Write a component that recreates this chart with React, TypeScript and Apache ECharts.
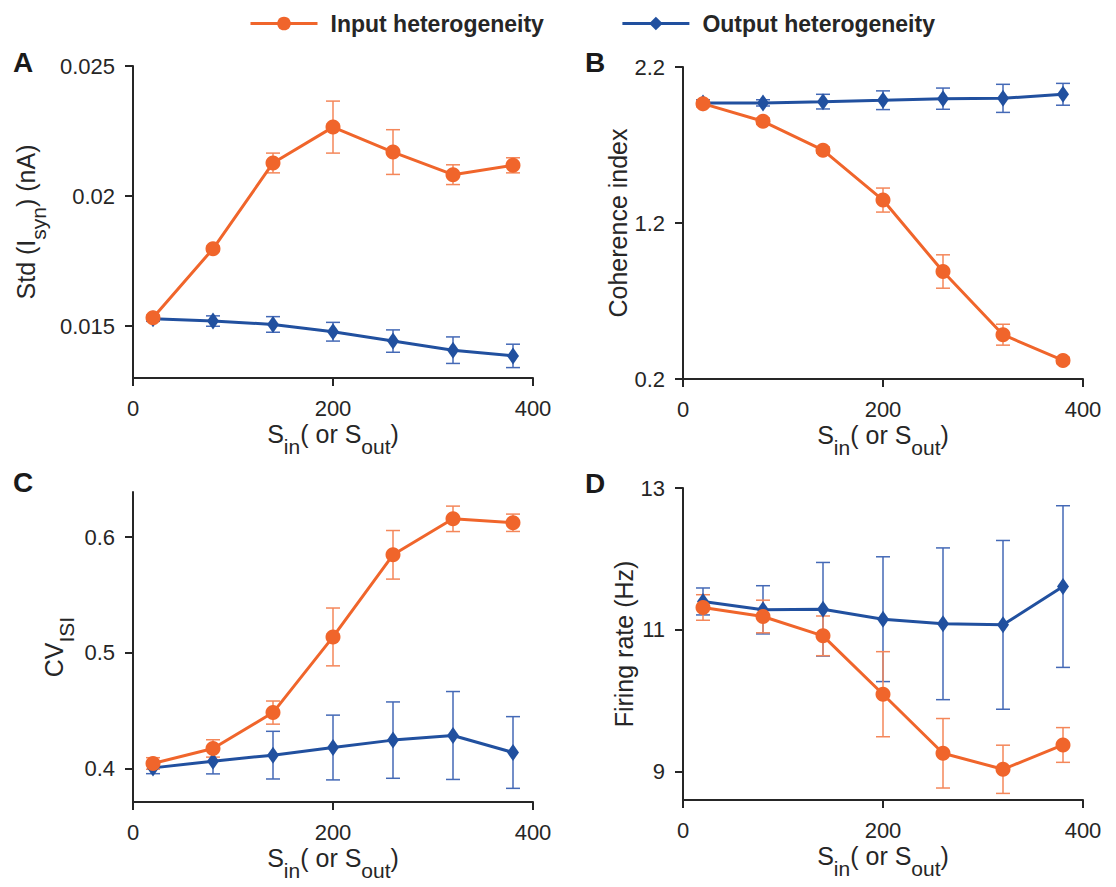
import React, { useEffect, useRef } from 'react';
import * as echarts from 'echarts';

// ---------- data ----------
const xValues = [20, 80, 140, 200, 260, 320, 380];
const xTicks = [0, 200, 400];

// Panel A: Std(I_syn) (nA)
const inputA = [0.01532, 0.01797, 0.02127, 0.02265, 0.02169, 0.02082, 0.02118];
const inputAErr = [0.0001, 0.0001, 0.00038, 0.001, 0.00086, 0.00038, 0.00029];
const outputA = [0.01528, 0.01519, 0.01506, 0.01478, 0.01442, 0.01407, 0.01385];
const outputAErr = [0.0001, 0.0002, 0.0003, 0.00036, 0.00043, 0.00051, 0.00045];
const yTicksA = [0.015, 0.02, 0.025];
const yTickLabelsA = ['0.015', '0.02', '0.025'];

// Panel B: Coherence index
const inputB = [1.965, 1.852, 1.667, 1.347, 0.889, 0.484, 0.319];
const inputBErr = [0.02, 0.02, 0.02, 0.077, 0.107, 0.067, 0.02];
const outputB = [1.97, 1.97, 1.978, 1.987, 1.997, 1.999, 2.025];
const outputBErr = [0.02, 0.02, 0.047, 0.06, 0.068, 0.09, 0.07];
const yTicksB = [0.2, 1.2, 2.2];
const yTickLabelsB = ['0.2', '1.2', '2.2'];

// Panel C: CV_ISI
const inputC = [0.4043, 0.4173, 0.4483, 0.5137, 0.5847, 0.6158, 0.6124];
const inputCErr = [0.005, 0.0075, 0.01, 0.025, 0.021, 0.011, 0.0075];
const outputC = [0.4005, 0.4063, 0.4115, 0.4181, 0.4245, 0.4285, 0.4138];
const outputCErr = [0.005, 0.011, 0.0206, 0.028, 0.033, 0.038, 0.031];
const yTicksC = [0.4, 0.5, 0.6];
const yTickLabelsC = ['0.4', '0.5', '0.6'];

// Panel D: Firing rate (Hz)
const inputD = [11.315, 11.188, 10.915, 10.092, 9.259, 9.033, 9.376];
const inputDErr = [0.18, 0.23, 0.28, 0.6, 0.49, 0.34, 0.245];
const outputD = [11.4, 11.282, 11.29, 11.15, 11.085, 11.07, 11.61];
const outputDErr = [0.19, 0.34, 0.66, 0.88, 1.07, 1.19, 1.14];
const yTicksD = [9, 11, 13];
const yTickLabelsD = ['9', '11', '13'];

const seriesNames = ['Input heterogeneity', 'Output heterogeneity'];
const panelLetters = ['A', 'B', 'C', 'D'];

// ---------- styles ----------
const ORANGE = '#F0652B';
const ORANGE_ERR = '#F4875A';
const BLUE = '#21509F';
const BLUE_ERR = '#4469B6';
const INK = '#262626';
const FONT = 'Liberation Sans';

const grids = [
  { left: 133, top: 66, width: 400, height: 312 },
  { left: 683, top: 67, width: 400, height: 312 },
  { left: 133, top: 492, width: 400, height: 310 },
  { left: 683, top: 488, width: 400, height: 312 },
];

const yCfg = [
  { min: 0.013, max: 0.025, ticks: yTicksA, labels: yTickLabelsA, name: '{m|Std (I}{s|syn}{m|) (nA)}', gap: 84 },
  { min: 0.2, max: 2.2, ticks: yTicksB, labels: yTickLabelsB, name: '{m|Coherence index}', gap: 51 },
  { min: 0.371, max: 0.639, ticks: yTicksC, labels: yTickLabelsC, name: '{m|CV}{s|ISI}', gap: 56 },
  { min: 8.6, max: 13, ticks: yTicksD, labels: yTickLabelsD, name: '{m|Firing rate (Hz)}', gap: 43 },
];

const panels = [
  { input: inputA, inputErr: inputAErr, output: outputA, outputErr: outputAErr },
  { input: inputB, inputErr: inputBErr, output: outputB, outputErr: outputBErr },
  { input: inputC, inputErr: inputCErr, output: outputC, outputErr: outputCErr },
  { input: inputD, inputErr: inputDErr, output: outputD, outputErr: outputDErr },
];

const letterPos = [
  [13, 62],
  [585, 62],
  [13, 482],
  [585, 483],
];

const nameRich = {
  m: { fontSize: 25, color: INK, fontFamily: FONT },
  s: { fontSize: 21, color: INK, fontFamily: FONT, padding: [26, 0, 0, 0] },
};

function errSeries(gi: number, vals: number[], errs: number[], color: string) {
  return {
    type: 'custom',
    xAxisIndex: gi,
    yAxisIndex: gi,
    silent: true,
    z: 1,
    data: xValues.map((x, i) => [x, vals[i] - errs[i], vals[i] + errs[i]]),
    encode: { x: 0, y: [1, 2] },
    renderItem: (params: any, api: any) => {
      const lo = api.coord([api.value(0), api.value(1)]);
      const hi = api.coord([api.value(0), api.value(2)]);
      const hw = 7;
      const style = { stroke: color, lineWidth: 1.5 };
      return {
        type: 'group',
        children: [
          { type: 'line', shape: { x1: lo[0], y1: lo[1], x2: hi[0], y2: hi[1] }, style },
          { type: 'line', shape: { x1: lo[0] - hw, y1: lo[1], x2: lo[0] + hw, y2: lo[1] }, style },
          { type: 'line', shape: { x1: hi[0] - hw, y1: hi[1], x2: hi[0] + hw, y2: hi[1] }, style },
        ],
      };
    },
  };
}

function lineSeries(gi: number, name: string, vals: number[], color: string, symbol: string, size: any, z: number) {
  return {
    type: 'line',
    name,
    xAxisIndex: gi,
    yAxisIndex: gi,
    data: xValues.map((x, i) => [x, vals[i]]),
    symbol,
    symbolSize: size,
    showSymbol: true,
    lineStyle: { color, width: 3 },
    itemStyle: { color, borderWidth: 0 },
    z,
    emphasis: { disabled: true },
  };
}

function buildOption() {
  const series: any[] = [];
  panels.forEach((p, gi) => {
    series.push(errSeries(gi, p.output, p.outputErr, BLUE_ERR));
    series.push(errSeries(gi, p.input, p.inputErr, ORANGE_ERR));
  });
  panels.forEach((p, gi) => {
    series.push(lineSeries(gi, seriesNames[1], p.output, BLUE, 'diamond', [12, 17], 3));
  });
  panels.forEach((p, gi) => {
    series.push(lineSeries(gi, seriesNames[0], p.input, ORANGE, 'circle', 15, 4));
  });

  return {
    animation: false,
    backgroundColor: '#ffffff',
    textStyle: { fontFamily: FONT, color: INK },
    legend: {
      data: seriesNames,
      left: 244,
      top: 7,
      itemWidth: 67,
      itemHeight: 17,
      itemGap: 77,
      selectedMode: false,
      lineStyle: { width: 3 },
      textStyle: { fontSize: 23, fontWeight: 'bold', color: INK, fontFamily: FONT, padding: [0, 0, 0, 8] },
    },
    grid: grids.map((g) => ({ ...g, containLabel: false })),
    xAxis: grids.map((_, gi) => ({
      type: 'value',
      gridIndex: gi,
      min: 0,
      max: 400,
      interval: 200,
      name: '{m|S}{s|in}{m|( or S}{s|out}{m|)}',
      nameLocation: 'middle',
      nameGap: 32,
      nameTextStyle: { rich: nameRich },
      axisLine: { show: true, onZero: false, lineStyle: { color: INK, width: 2 } },
      axisTick: { show: true, inside: false, length: 8, lineStyle: { color: INK, width: 2 } },
      axisLabel: { fontSize: 22, color: INK, fontFamily: FONT, margin: 19, formatter: (v: number) => (xTicks.includes(v) ? String(v) : '') },
      splitLine: { show: false },
    })),
    yAxis: yCfg.map((c, gi) => ({
      type: 'value',
      gridIndex: gi,
      min: c.min,
      max: c.max,
      name: c.name,
      nameLocation: 'middle',
      nameRotate: 90,
      nameGap: c.gap,
      nameTextStyle: { rich: nameRich },
      axisLine: { show: true, onZero: false, lineStyle: { color: INK, width: 2 } },
      axisTick: { show: true, inside: false, length: 8, lineStyle: { color: INK, width: 2 }, customValues: c.ticks },
      axisLabel: {
        fontSize: 22,
        color: INK,
        fontFamily: FONT,
        margin: 18,
        customValues: c.ticks,
        formatter: (v: number) => {
          const idx = c.ticks.findIndex((t) => Math.abs(t - v) < 1e-9);
          return idx >= 0 ? c.labels[idx] : '';
        },
      },
      splitLine: { show: false },
    })),
    graphic: panelLetters.map((t, i) => ({
      type: 'text',
      x: letterPos[i][0],
      y: letterPos[i][1],
      style: { text: t, fontSize: 28, fontWeight: 'bold', fontFamily: FONT, fill: '#1a1a1a', verticalAlign: 'middle', align: 'left' },
    })),
    series,
  };
}

export default function App() {
  const ref = useRef<HTMLDivElement>(null);
  useEffect(() => {
    if (!ref.current) return;
    const chart = echarts.init(ref.current, null, { renderer: 'svg' });
    chart.setOption(buildOption() as any);
    return () => chart.dispose();
  }, []);
  return <div ref={ref} style={{ position: 'absolute', left: 0, top: 0, width: 1116, height: 887 }} />;
}
